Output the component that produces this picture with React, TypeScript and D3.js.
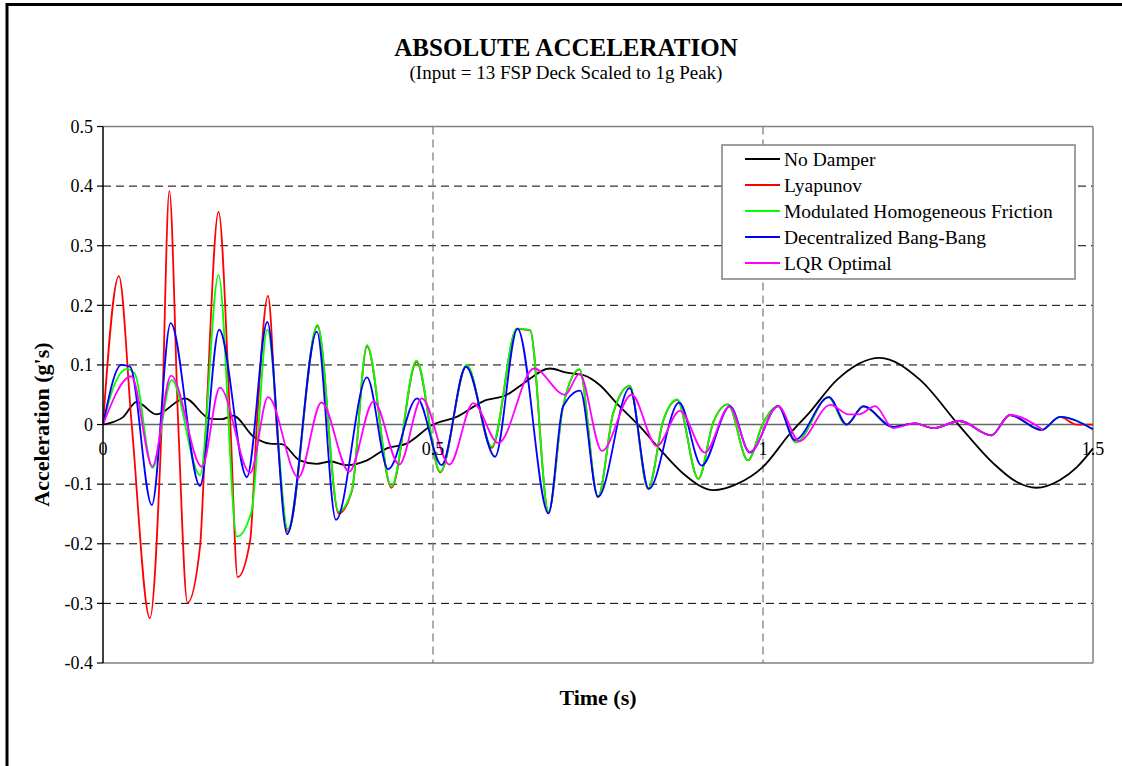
import React from 'react';
import * as d3 from 'd3';

// time ticks / acceleration ticks
const xTicks = [0, 0.5, 1, 1.5];
const xTickLabels = ['0', '0.5', '1', '1.5'];
const yTicks = [-0.4, -0.3, -0.2, -0.1, 0, 0.1, 0.2, 0.3, 0.4, 0.5];
const yTickLabels = ['-0.4', '-0.3', '-0.2', '-0.1', '0', '0.1', '0.2', '0.3', '0.4', '0.5'];

const seriesNames = [
  'No Damper',
  'Lyapunov',
  'Modulated Homogeneous Friction',
  'Decentralized Bang-Bang',
  'LQR Optimal',
];
const seriesColors = ['#000000', '#ff0000', '#00ff00', '#0000ff', '#ff00ff'];

// No Damper
const noDamperT = [0, 0.015, 0.03, 0.051, 0.081, 0.124, 0.162, 0.18, 0.197, 0.228, 0.253, 0.271, 0.298, 0.324, 0.345, 0.369, 0.4, 0.43, 0.46, 0.5, 0.536, 0.576, 0.612, 0.637, 0.677, 0.703, 0.728, 0.753, 0.778, 0.814, 0.849, 0.879, 0.925, 0.96, 1.0, 1.041, 1.071, 1.112, 1.177, 1.238, 1.296, 1.349, 1.384, 1.414, 1.45, 1.476, 1.5];
const noDamperV = [0, 0.004, 0.012, 0.038, 0.017, 0.044, 0.01, 0.009, 0.015, -0.02, -0.032, -0.033, -0.06, -0.066, -0.062, -0.068, -0.06, -0.04, -0.032, 0, 0.013, 0.039, 0.05, 0.069, 0.094, 0.087, 0.083, 0.066, 0.036, -0.004, -0.048, -0.082, -0.11, -0.1, -0.071, -0.015, 0.021, 0.075, 0.112, 0.075, 0, -0.065, -0.096, -0.106, -0.093, -0.071, -0.04];

// Lyapunov
const lyapT = [0, 0.024, 0.0435, 0.071, 0.089, 0.1005, 0.114, 0.128, 0.147, 0.156, 0.175, 0.193, 0.204, 0.223, 0.233, 0.25, 0.263, 0.28, 0.325, 0.357, 0.377, 0.4, 0.437, 0.475, 0.511, 0.551, 0.589, 0.627, 0.647, 0.675, 0.697, 0.722, 0.75, 0.773, 0.798, 0.826, 0.849, 0.87, 0.902, 0.925, 0.947, 0.977, 1.0, 1.023, 1.05, 1.099, 1.126, 1.152, 1.197, 1.23, 1.258, 1.298, 1.346, 1.374, 1.422, 1.45, 1.475, 1.5];
const lyapV = [0, 0.249, 0, -0.325, 0, 0.392, 0, -0.299, -0.205, 0, 0.357, 0, -0.256, -0.194, 0, 0.216, 0, -0.18, 0.165, -0.149, -0.112, 0.131, -0.106, 0.105, -0.08, 0.099, -0.039, 0.16, 0.158, -0.147, 0.03, 0.092, -0.122, 0.019, 0.065, -0.108, 0.007, 0.041, -0.091, 0.005, 0.034, -0.06, 0.002, 0.031, -0.03, 0.046, 0, 0.03, -0.004, 0.002, -0.006, 0.006, -0.018, 0.016, -0.009, 0.013, 0, 0];

// Modulated Homogeneous Friction
const mhfT = [0, 0.015, 0.036, 0.048, 0.075, 0.104, 0.147, 0.175, 0.203, 0.225, 0.249, 0.28, 0.325, 0.357, 0.377, 0.4, 0.437, 0.475, 0.511, 0.551, 0.589, 0.627, 0.647, 0.675, 0.697, 0.722, 0.75, 0.773, 0.798, 0.826, 0.849, 0.87, 0.902, 0.925, 0.947, 0.977, 1.0, 1.023, 1.05, 1.099, 1.126, 1.152, 1.197, 1.23, 1.258, 1.298, 1.346, 1.374, 1.422, 1.45, 1.5];
const mhfV = [0, 0.06, 0.093, 0.086, -0.073, 0.075, -0.085, 0.251, -0.188, -0.146, 0.159, -0.175, 0.167, -0.146, -0.11, 0.133, -0.104, 0.107, -0.079, 0.1, -0.037, 0.161, 0.159, -0.146, 0.03, 0.093, -0.121, 0.019, 0.065, -0.107, 0.0075, 0.042, -0.091, 0.005, 0.034, -0.06, 0.002, 0.031, -0.03, 0.046, 0, 0.03, -0.004, 0.002, -0.006, 0.006, -0.018, 0.016, -0.009, 0.013, -0.008];

// Decentralized Bang-Bang
const bangT = [0, 0.028, 0.041, 0.074, 0.1025, 0.147, 0.176, 0.218, 0.249, 0.279, 0.324, 0.353, 0.4, 0.432, 0.476, 0.513, 0.55, 0.594, 0.628, 0.675, 0.697, 0.723, 0.75, 0.798, 0.827, 0.873, 0.907, 0.95, 0.98, 1.023, 1.048, 1.1, 1.127, 1.152, 1.197, 1.23, 1.258, 1.298, 1.346, 1.374, 1.422, 1.45, 1.5];
const bangV = [0, 0.1, 0.097, -0.135, 0.17, -0.103, 0.159, -0.088, 0.172, -0.184, 0.156, -0.16, 0.079, -0.075, 0.044, -0.068, 0.097, -0.054, 0.161, -0.149, 0.03, 0.057, -0.121, 0.061, -0.108, 0.037, -0.069, 0.031, -0.047, 0.031, -0.026, 0.046, 0, 0.031, -0.004, 0.002, -0.006, 0.006, -0.018, 0.016, -0.009, 0.013, -0.008];

// LQR Optimal
const lqrT = [0, 0.043, 0.075, 0.103, 0.15, 0.177, 0.223, 0.25, 0.296, 0.331, 0.373, 0.41, 0.449, 0.483, 0.525, 0.561, 0.599, 0.653, 0.7, 0.722, 0.756, 0.801, 0.839, 0.874, 0.912, 0.949, 0.98, 1.023, 1.055, 1.102, 1.13, 1.145, 1.17, 1.197, 1.23, 1.258, 1.298, 1.346, 1.374, 1.424];
const lqrV = [0, 0.081, -0.07, 0.082, -0.071, 0.062, -0.081, 0.046, -0.089, 0.037, -0.079, 0.039, -0.067, 0.044, -0.067, 0.036, -0.031, 0.094, 0.05, 0.085, -0.044, 0.05, -0.036, 0.023, -0.047, 0.03, -0.046, 0.031, -0.028, 0.033, 0.017, 0.017, 0.031, -0.006, 0.002, -0.006, 0.006, -0.018, 0.016, -0.009];

const seriesT = [noDamperT, lyapT, mhfT, bangT, lqrT];
const seriesV = [noDamperV, lyapV, mhfV, bangV, lqrV];

const W = 1122;
const H = 766;
const serif = '"Liberation Serif", "Times New Roman", serif';

const App = () => {
  const x = d3.scaleLinear().domain([0, 1.5]).range([103, 1093]);
  const y = d3.scaleLinear().domain([-0.4, 0.5]).range([663, 126.5]);

  const line = d3.line<[number, number]>()
    .x(d => x(d[0]))
    .y(d => y(d[1]))
    .curve(d3.curveMonotoneX);

  const [x0, x1] = x.range();
  const [yBot, yTop] = y.range();

  // legend position
  const lgX = 722, lgY = 145, lgW = 353, lgRow = 26;

  return (
    <svg width={W} height={H} style={{ position: 'absolute', left: 0, top: 0, fontFamily: serif }}>
      <rect x={0} y={0} width={W} height={H} fill="#fff" />
      {/* outer frame */}
      <rect x={7} y={4.5} width={W + 20} height={H + 20} fill="none" stroke="#000" strokeWidth={3} />

      <text x={566} y={56} textAnchor="middle" fontWeight="bold" fontSize={25}>ABSOLUTE ACCELERATION</text>
      <text x={566} y={79} textAnchor="middle" fontSize={19}>(Input = 13 FSP Deck Scaled to 1g Peak)</text>

      {/* horizontal grid */}
      {yTicks.filter(v => v !== 0 && v !== 0.5 && v !== -0.4).map(v => (
        <line key={'h' + v} x1={x0} x2={x1} y1={y(v)} y2={y(v)} stroke="#000" strokeDasharray="8,5" strokeWidth={1} />
      ))}
      {/* vertical grid */}
      {xTicks.filter(v => v !== 0 && v !== 1.5).map(v => (
        <line key={'v' + v} x1={x(v)} x2={x(v)} y1={yTop} y2={yBot} stroke="#777" strokeDasharray="8,5" strokeWidth={1.2} />
      ))}

      {/* frame */}
      <line x1={x0} x2={x1} y1={yTop} y2={yTop} stroke="#808080" strokeWidth={1.5} />
      <line x1={x1} x2={x1} y1={yTop} y2={yBot} stroke="#808080" strokeWidth={1.5} />
      <line x1={x0} x2={x1} y1={yBot} y2={yBot} stroke="#808080" strokeWidth={1.5} />
      <line x1={x0} x2={x1} y1={y(0)} y2={y(0)} stroke="#666" strokeWidth={1.5} />

      {/* series */}
      {seriesT.map((ts, i) => (
        <path key={seriesNames[i]} d={line(ts.map((t, j) => [t, seriesV[i][j]] as [number, number])) || ''}
          fill="none" stroke={seriesColors[i]} strokeWidth={1.8} />
      ))}

      {/* y axis */}
      <line x1={x0} x2={x0} y1={yTop} y2={yBot} stroke="#000" strokeWidth={1.5} />
      {yTicks.map((v, i) => (
        <g key={'yt' + v}>
          <line x1={x0 - 6} x2={x0} y1={y(v)} y2={y(v)} stroke="#000" strokeWidth={1.2} />
          <text x={x0 - 10} y={y(v)} dy="0.35em" textAnchor="end" fontSize={18}>{yTickLabels[i]}</text>
        </g>
      ))}

      {/* x tick labels sit just below the zero line */}
      {xTicks.map((v, i) => (
        <text key={'xt' + v} x={x(v)} y={y(0) + 30} textAnchor="middle" fontSize={18}>{xTickLabels[i]}</text>
      ))}

      <text x={598} y={705} textAnchor="middle" fontWeight="bold" fontSize={22}>Time (s)</text>
      <text transform={`translate(49,${y(0)}) rotate(-90)`} textAnchor="middle" fontWeight="bold" fontSize={22}>Acceleration (g's)</text>

      {/* legend */}
      <rect x={lgX} y={lgY} width={lgW} height={lgRow * 5 + 4} fill="#fff" stroke="#808080" strokeWidth={1.5} />
      {seriesNames.map((name, i) => (
        <g key={'lg' + name} transform={`translate(${lgX},${lgY + 14 + i * lgRow})`}>
          <line x1={23} x2={58} y1={0} y2={0} stroke={seriesColors[i]} strokeWidth={2} />
          <text x={62} y={0} dy="0.35em" fontSize={19.5}>{name}</text>
        </g>
      ))}
    </svg>
  );
};

export default App;
